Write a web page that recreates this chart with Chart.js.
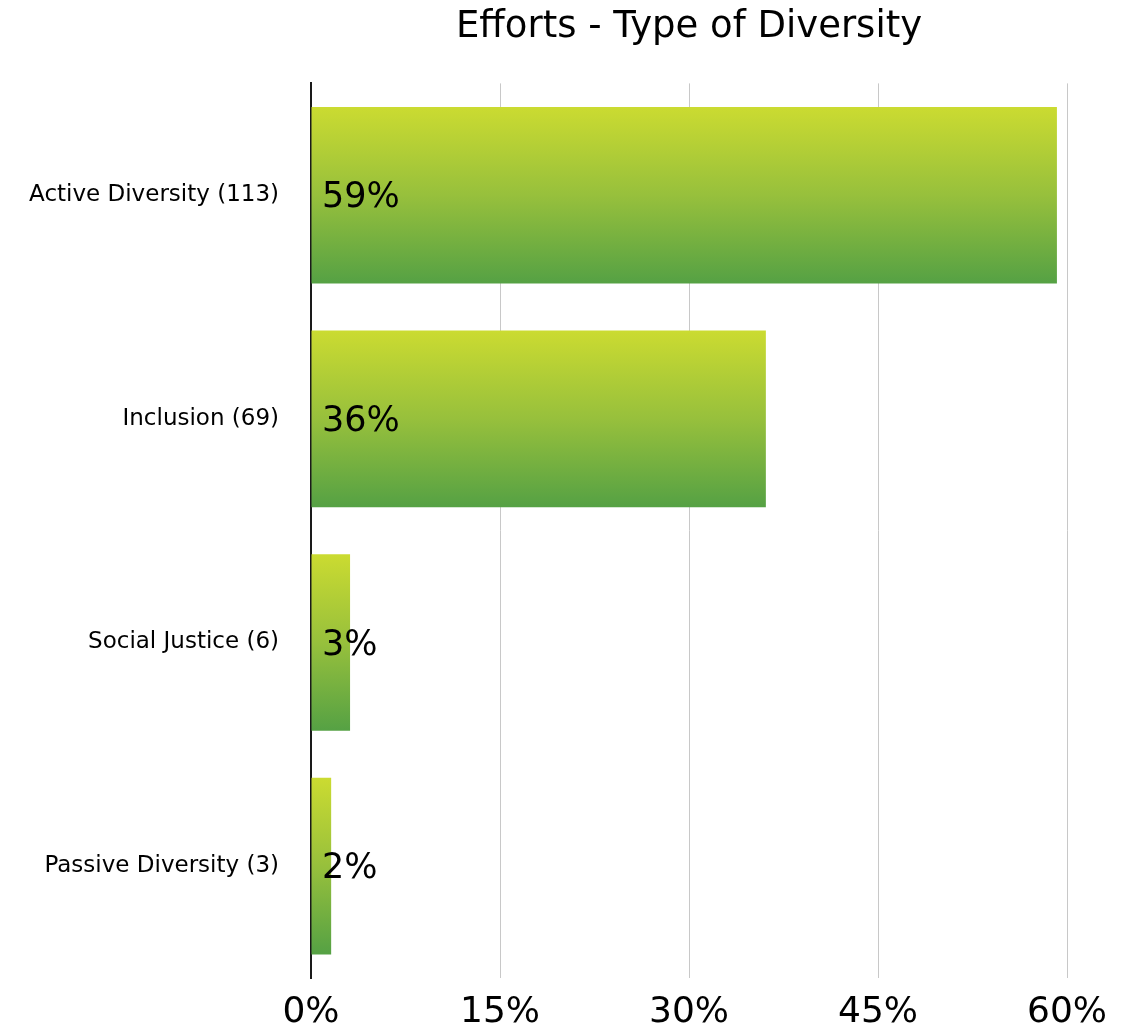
<!DOCTYPE html>
<html>
<head>
<meta charset="utf-8">
<script src="https://cdn.jsdelivr.net/npm/chart.js@4/dist/chart.umd.min.js"></script>
<style>
  html, body { margin: 0; padding: 0; background: #fff; }
  #wrap { width: 1129px; height: 1027px; position: relative; }
</style>
</head>
<body>
<div id="wrap"><canvas id="c" width="1129" height="1027"></canvas></div>
<script>
const title = 'Efforts - Type of Diversity';
const categories = ['Active Diversity (113)', 'Inclusion (69)', 'Social Justice (6)', 'Passive Diversity (3)'];
const percentValues = [59.2, 36.1, 3.1, 1.6];
const xTickValues = [0, 15, 30, 45, 60];

const FONT = '"DejaVu Sans", sans-serif';
const BAR_PCT = 0.79;

function barGradient(context) {
  const chart = context.chart;
  const area = chart.chartArea;
  if (!area) return '#8dbb3c';
  const yScale = chart.scales.y;
  const center = yScale.getPixelForValue(context.dataIndex);
  const band = (area.bottom - area.top) / categories.length;
  const half = band * BAR_PCT / 2;
  const g = chart.ctx.createLinearGradient(0, center - half, 0, center + half);
  g.addColorStop(0, '#cbdb31');
  g.addColorStop(0.5, '#97c03c');
  g.addColorStop(1, '#55a144');
  return g;
}

const valueLabels = {
  id: 'valueLabels',
  afterDatasetsDraw(chart) {
    const ctx = chart.ctx;
    const meta = chart.getDatasetMeta(0);
    ctx.save();
    ctx.font = '35px ' + FONT;
    ctx.fillStyle = '#000';
    ctx.textAlign = 'left';
    ctx.textBaseline = 'middle';
    meta.data.forEach((bar, i) => {
      ctx.fillText(Math.round(percentValues[i]) + '%', chart.chartArea.left + 11, bar.y + 3);
    });
    ctx.restore();
  }
};

new Chart(document.getElementById('c'), {
  type: 'bar',
  data: {
    labels: categories,
    datasets: [{
      data: percentValues,
      backgroundColor: barGradient,
      borderWidth: 0,
      barPercentage: BAR_PCT,
      categoryPercentage: 1
    }]
  },
  options: {
    indexAxis: 'y',
    responsive: false,
    animation: false,
    layout: { padding: { left: 0, right: 62, top: 0, bottom: 0 } },
    plugins: {
      legend: { display: false },
      tooltip: { enabled: false },
      title: {
        display: true,
        text: title,
        fullSize: false,
        color: '#000',
        font: { family: FONT, size: 37, weight: 'normal' },
        padding: { top: 5, bottom: 34 }
      }
    },
    scales: {
      x: {
        min: 0,
        max: 60,
        afterBuildTicks(scale) { scale.ticks = xTickValues.map(v => ({ value: v })); },
        afterFit(scale) { scale.height = 49; },
        grid: { color: '#c8c8c8', lineWidth: 1, drawTicks: false },
        border: { display: false },
        ticks: {
          padding: 13,
          color: '#000',
          font: { family: FONT, size: 36 },
          callback: v => v + '%'
        }
      },
      y: {
        z: 1,
        afterFit(scale) { scale.width = 311; },
        grid: { display: false, drawTicks: false },
        border: { display: true, color: '#1a1a1a', width: 2 },
        ticks: {
          padding: 32,
          color: '#000',
          font: { family: FONT, size: 23 }
        }
      }
    }
  },
  plugins: [valueLabels]
});
</script>
</body>
</html>
